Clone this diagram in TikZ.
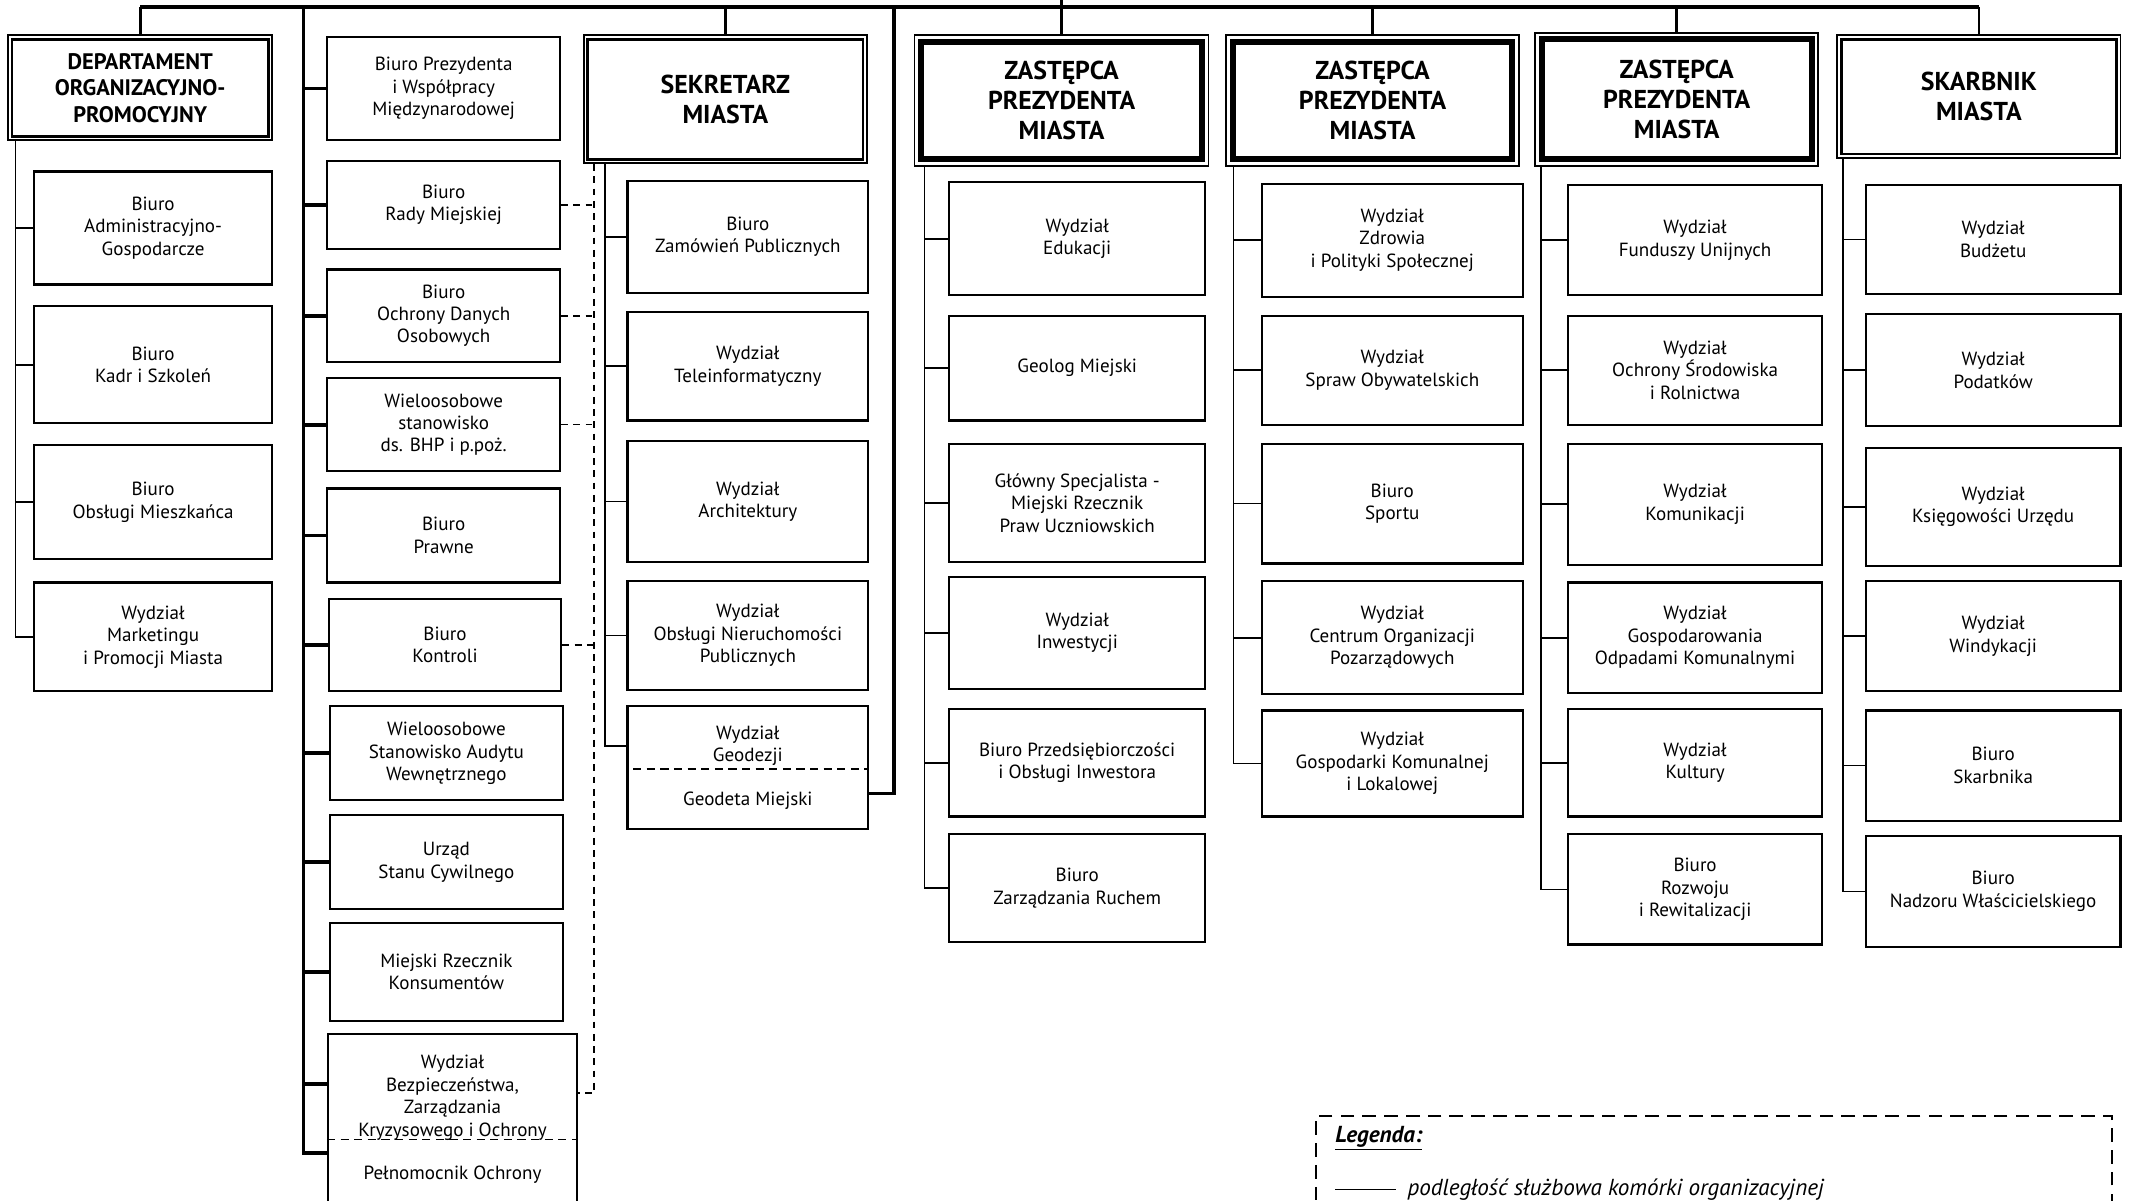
\documentclass[tikz,border=0pt]{standalone}
\usepackage{fontspec}
\setmainfont{PT Sans}
\begin{document}
\begin{tikzpicture}[x=1pt,y=-1pt,
  unit/.style={draw,line width=1.6pt,align=center,inner sep=0pt,font=\fontsize{14}{16.5}\selectfont},
  head/.style={draw,line width=1.3pt,align=center,inner sep=0pt,font=\bfseries\fontsize{19}{22}\selectfont},
  lbl/.style={align=center,inner sep=0pt,font=\fontsize{14}{16.5}\selectfont},
  link/.style={line width=1.3pt},
  trunk/.style={line width=2.8pt},
  bus/.style={line width=3pt},
  drop/.style={line width=2pt},
  dashlink/.style={line width=1.2pt,dash pattern=on 5pt off 4pt},
  sep/.style={line width=1.2pt,dash pattern=on 6pt off 4pt}]
    \useasboundingbox (0,0) rectangle (1568,882);
    \fill [white] (0,0) rectangle (1568,882);
    \clip (0,0) rectangle (1568,882);
    \coordinate (top) at (0,0);
    \coordinate (bus) at (0,5);
    \coordinate (c2) at (223,5);
    \coordinate (c3) at (657,5);

    \node [head,minimum width=194,minimum height=77,font=\bfseries\fontsize{16.5}{19.5}\selectfont] (dep) at (103,64.5) {DEPARTAMENT\\ORGANIZACYJNO-\\PROMOCYJNY};
    \node [head,minimum width=208,minimum height=94] (sek) at (533,73) {SEKRETARZ\\MIASTA};
    \node [head,minimum width=216,minimum height=96] (zp1) at (780,74) {ZASTĘPCA\\PREZYDENTA\\MIASTA};
    \node [head,minimum width=215,minimum height=96] (zp2) at (1008.5,74) {ZASTĘPCA\\PREZYDENTA\\MIASTA};
    \node [head,minimum width=208,minimum height=98] (zp3) at (1232,73) {ZASTĘPCA\\PREZYDENTA\\MIASTA};
    \node [head,minimum width=208,minimum height=90] (skb) at (1454,71) {SKARBNIK\\MIASTA};
    \draw [line width=2pt] ([xshift=3.5pt,yshift=-3.5pt]dep.north west) rectangle ([xshift=-3.5pt,yshift=3.5pt]dep.south east);
    \draw [line width=2pt] ([xshift=3.5pt,yshift=-3.5pt]sek.north west) rectangle ([xshift=-3.5pt,yshift=3.5pt]sek.south east);
    \draw [line width=2pt] ([xshift=3.5pt,yshift=-3.5pt]skb.north west) rectangle ([xshift=-3.5pt,yshift=3.5pt]skb.south east);
    \draw [line width=4.5pt] ([xshift=5.5pt,yshift=-5.5pt]zp1.north west) rectangle ([xshift=-5.5pt,yshift=5.5pt]zp1.south east);
    \draw [line width=4.5pt] ([xshift=5.5pt,yshift=-5.5pt]zp2.north west) rectangle ([xshift=-5.5pt,yshift=5.5pt]zp2.south east);
    \draw [line width=4.5pt] ([xshift=5.5pt,yshift=-5.5pt]zp3.north west) rectangle ([xshift=-5.5pt,yshift=5.5pt]zp3.south east);

    \node [unit,minimum width=175,minimum height=83] (a1) at (112.5,167.5) {Biuro\\Administracyjno-\\Gospodarcze};
    \node [unit,minimum width=175,minimum height=86] (a2) at (112.5,268) {Biuro\\Kadr i Szkoleń};
    \node [unit,minimum width=175,minimum height=84] (a3) at (112.5,369) {Biuro\\Obsługi Mieszkańca};
    \node [unit,minimum width=175,minimum height=80] (a4) at (112.5,468) {Wydział\\Marketingu\\i Promocji Miasta};

    \node [unit,minimum width=171,minimum height=76] (b1) at (326,65) {Biuro Prezydenta\\i Współpracy\\Międzynarodowej};
    \node [unit,minimum width=171,minimum height=65] (b2) at (326,150.5) {Biuro\\Rady Miejskiej};
    \node [unit,minimum width=171,minimum height=68] (b3) at (326,232) {Biuro\\Ochrony Danych\\Osobowych};
    \node [unit,minimum width=171,minimum height=68] (b4) at (326,312) {Wieloosobowe\\stanowisko\\ds. BHP i p.poż.};
    \node [unit,minimum width=171,minimum height=69] (b5) at (326,393.5) {Biuro\\Prawne};
    \node [unit,minimum width=171,minimum height=68] (b6) at (327,474) {Biuro\\Kontroli};
    \node [unit,minimum width=171,minimum height=69] (b7) at (328,553.5) {Wieloosobowe\\Stanowisko Audytu\\Wewnętrznego};
    \node [unit,minimum width=171,minimum height=69] (b8) at (328,633.5) {Urząd\\Stanu Cywilnego};
    \node [unit,minimum width=171,minimum height=72] (b9) at (328,714) {Miejski Rzecznik\\Konsumentów};
    \node [unit,minimum width=183,minimum height=140] (b10) at (332.5,830) {};
    \node [lbl] (b10a) at (332.5,806.5) {Wydział\\Bezpieczeństwa,\\Zarządzania\\Kryzysowego i Ochrony};
    \node [lbl] (b10b) at (332.5,863) {Pełnomocnik Ochrony};
    \draw [sep] ([yshift=-78pt]b10.north west) -- ([yshift=-78pt]b10.north east);
    \coordinate (b10t1) at ([yshift=-37pt]b10.north west);
    \coordinate (b10t2) at ([yshift=-88pt]b10.north west);
    \coordinate (b10d) at ([yshift=-44pt]b10.north east);

    \node [unit,minimum width=177,minimum height=82] (c1) at (549.5,174) {Biuro\\Zamówień Publicznych};
    \node [unit,minimum width=177,minimum height=80] (c2b) at (549.5,269) {Wydział\\Teleinformatyczny};
    \node [unit,minimum width=177,minimum height=89] (c3b) at (549.5,368.5) {Wydział\\Architektury};
    \node [unit,minimum width=177,minimum height=80] (c4) at (549.5,467) {Wydział\\Obsługi Nieruchomości\\Publicznych};
    \node [unit,minimum width=177,minimum height=90] (c5) at (549.5,564) {};
    \node [lbl] (c5a) at (549.5,548) {Wydział\\Geodezji};
    \node [lbl] (c5b) at (549.5,588) {Geodeta Miejski};
    \draw [sep] ([yshift=-47pt,xshift=5pt]c5.north west) -- ([yshift=-47pt,xshift=-2pt]c5.north east);

    \node [unit,minimum width=188,minimum height=83] (d1) at (791.5,175.5) {Wydział\\Edukacji};
    \node [unit,minimum width=188,minimum height=77] (d2) at (791.5,270.5) {Geolog Miejski};
    \node [unit,minimum width=188,minimum height=87] (d3) at (791.5,369.5) {Główny Specjalista -\\Miejski Rzecznik\\Praw Uczniowskich};
    \node [unit,minimum width=188,minimum height=82] (d4) at (791.5,465) {Wydział\\Inwestycji};
    \node [unit,minimum width=188,minimum height=79] (d5) at (791.5,560.5) {Biuro Przedsiębiorczości\\i Obsługi Inwestora};
    \node [unit,minimum width=188,minimum height=79] (d6) at (791.5,652.5) {Biuro\\Zarządzania Ruchem};

    \node [unit,minimum width=192,minimum height=83] (e1) at (1023,176.5) {Wydział\\Zdrowia\\i Polityki Społecznej};
    \node [unit,minimum width=192,minimum height=80] (e2) at (1023,272) {Wydział\\Spraw Obywatelskich};
    \node [unit,minimum width=192,minimum height=88] (e3) at (1023,370) {Biuro\\Sportu};
    \node [unit,minimum width=192,minimum height=83] (e4) at (1023,468.5) {Wydział\\Centrum Organizacji\\Pozarządowych};
    \node [unit,minimum width=192,minimum height=78] (e5) at (1023,561) {Wydział\\Gospodarki Komunalnej\\i Lokalowej};

    \node [unit,minimum width=187,minimum height=81] (f1) at (1245.5,176.5) {Wydział\\Funduszy Unijnych};
    \node [unit,minimum width=187,minimum height=80] (f2) at (1245.5,272) {Wydział\\Ochrony Środowiska\\i Rolnictwa};
    \node [unit,minimum width=187,minimum height=89] (f3) at (1245.5,370.5) {Wydział\\Komunikacji};
    \node [unit,minimum width=187,minimum height=81] (f4) at (1245.5,468.5) {Wydział\\Gospodarowania\\Odpadami Komunalnymi};
    \node [unit,minimum width=187,minimum height=79] (f5) at (1245.5,560.5) {Wydział\\Kultury};
    \node [unit,minimum width=187,minimum height=81] (f6) at (1245.5,653.5) {Biuro\\Rozwoju\\i Rewitalizacji};

    \node [unit,minimum width=187,minimum height=80] (g1) at (1464.5,176) {Wydział\\Budżetu};
    \node [unit,minimum width=187,minimum height=82] (g2) at (1464.5,272) {Wydział\\Podatków};
    \node [unit,minimum width=187,minimum height=87] (g3) at (1464.5,372.5) {Wydział\\Księgowości Urzędu};
    \node [unit,minimum width=187,minimum height=81] (g4) at (1464.5,467.5) {Wydział\\Windykacji};
    \node [unit,minimum width=187,minimum height=81] (g5) at (1464.5,562.5) {Biuro\\Skarbnika};
    \node [unit,minimum width=187,minimum height=82] (g6) at (1464.5,655) {Biuro\\Nadzoru Właścicielskiego};

    \draw [bus] (dep.north |- bus) -- (skb.north |- bus);
    \draw [drop] (dep.north |- bus) -- (dep.north);
    \draw [drop] (sek.north |- bus) -- (sek.north);
    \draw [drop] (zp1.north |- top) -- (zp1.north);
    \draw [drop] (zp2.north |- bus) -- (zp2.north);
    \draw [drop] (zp3.north |- bus) -- (zp3.north);
    \draw [drop] (skb.north |- bus) -- (skb.north);

    \coordinate (deps) at ([xshift=6pt]dep.south west);
    \draw [link] (deps) |- (a4.west);
    \draw [link] (a1.west -| deps) -- (a1.west);
    \draw [link] (a2.west -| deps) -- (a2.west);
    \draw [link] (a3.west -| deps) -- (a3.west);

    \draw [trunk] (c2) |- (b10t2);
    \draw [trunk] (b1.west -| c2) -- (b1.west);
    \draw [trunk] (b2.west -| c2) -- (b2.west);
    \draw [trunk] (b3.west -| c2) -- (b3.west);
    \draw [trunk] (b4.west -| c2) -- (b4.west);
    \draw [trunk] (b5.west -| c2) -- (b5.west);
    \draw [trunk] (b6.west -| c2) -- (b6.west);
    \draw [trunk] (b7.west -| c2) -- (b7.west);
    \draw [trunk] (b8.west -| c2) -- (b8.west);
    \draw [trunk] (b9.west -| c2) -- (b9.west);
    \draw [trunk] (b10t1 -| c2) -- (b10t1);
    \draw [trunk] (c3) |- ([yshift=5pt]c5b -| c5.east);

    \coordinate (sekd) at ([xshift=8pt]sek.south west);
    \draw [dashlink] (sekd) |- (b10d);
    \draw [dashlink] (b2.east) -- (b2.east -| sekd);
    \draw [dashlink] (b3.east) -- (b3.east -| sekd);
    \draw [dashlink] (b4.east) -- (b4.east -| sekd);
    \draw [dashlink] (b6.east) -- (b6.east -| sekd);

    \coordinate (seks) at ([xshift=16pt]sek.south west);
    \draw [link] (seks) |- (c5a -| c5.west);
    \draw [link] (c1.west -| seks) -- (c1.west);
    \draw [link] (c2b.west -| seks) -- (c2b.west);
    \draw [link] (c3b.west -| seks) -- (c3b.west);
    \draw [link] (c4.west -| seks) -- (c4.west);

    \coordinate (zp1s) at ([xshift=8pt]zp1.south west);
    \draw [link] (zp1s) |- (d6.west);
    \draw [link] (d1.west -| zp1s) -- (d1.west);
    \draw [link] (d2.west -| zp1s) -- (d2.west);
    \draw [link] (d3.west -| zp1s) -- (d3.west);
    \draw [link] (d4.west -| zp1s) -- (d4.west);
    \draw [link] (d5.west -| zp1s) -- (d5.west);

    \coordinate (zp2s) at ([xshift=6pt]zp2.south west);
    \draw [link] (zp2s) |- (e5.west);
    \draw [link] (e1.west -| zp2s) -- (e1.west);
    \draw [link] (e2.west -| zp2s) -- (e2.west);
    \draw [link] (e3.west -| zp2s) -- (e3.west);
    \draw [link] (e4.west -| zp2s) -- (e4.west);

    \coordinate (zp3s) at ([xshift=5pt]zp3.south west);
    \draw [link] (zp3s) |- (f6.west);
    \draw [link] (f1.west -| zp3s) -- (f1.west);
    \draw [link] (f2.west -| zp3s) -- (f2.west);
    \draw [link] (f3.west -| zp3s) -- (f3.west);
    \draw [link] (f4.west -| zp3s) -- (f4.west);
    \draw [link] (f5.west -| zp3s) -- (f5.west);

    \coordinate (skbs) at ([xshift=5pt]skb.south west);
    \draw [link] (skbs) |- (g6.west);
    \draw [link] (g1.west -| skbs) -- (g1.west);
    \draw [link] (g2.west -| skbs) -- (g2.west);
    \draw [link] (g3.west -| skbs) -- (g3.west);
    \draw [link] (g4.west -| skbs) -- (g4.west);
    \draw [link] (g5.west -| skbs) -- (g5.west);

    \node [draw,line width=1.4pt,dash pattern=on 10pt off 6pt,minimum width=585,minimum height=90] (leg) at (1259.5,865) {};
    \node [anchor=west,inner sep=0pt,font=\bfseries\itshape\fontsize{17}{19}\selectfont] (legt) at (981,836) {\underline{Legenda:}};
    \node [anchor=west,inner sep=0pt,font=\itshape\fontsize{17}{19}\selectfont] (legx) at (1034,874) {podległość służbowa komórki organizacyjnej};
    \draw [link] ([xshift=-53pt]legx.west) -- ([xshift=-8pt]legx.west);
\end{tikzpicture}
\end{document}
